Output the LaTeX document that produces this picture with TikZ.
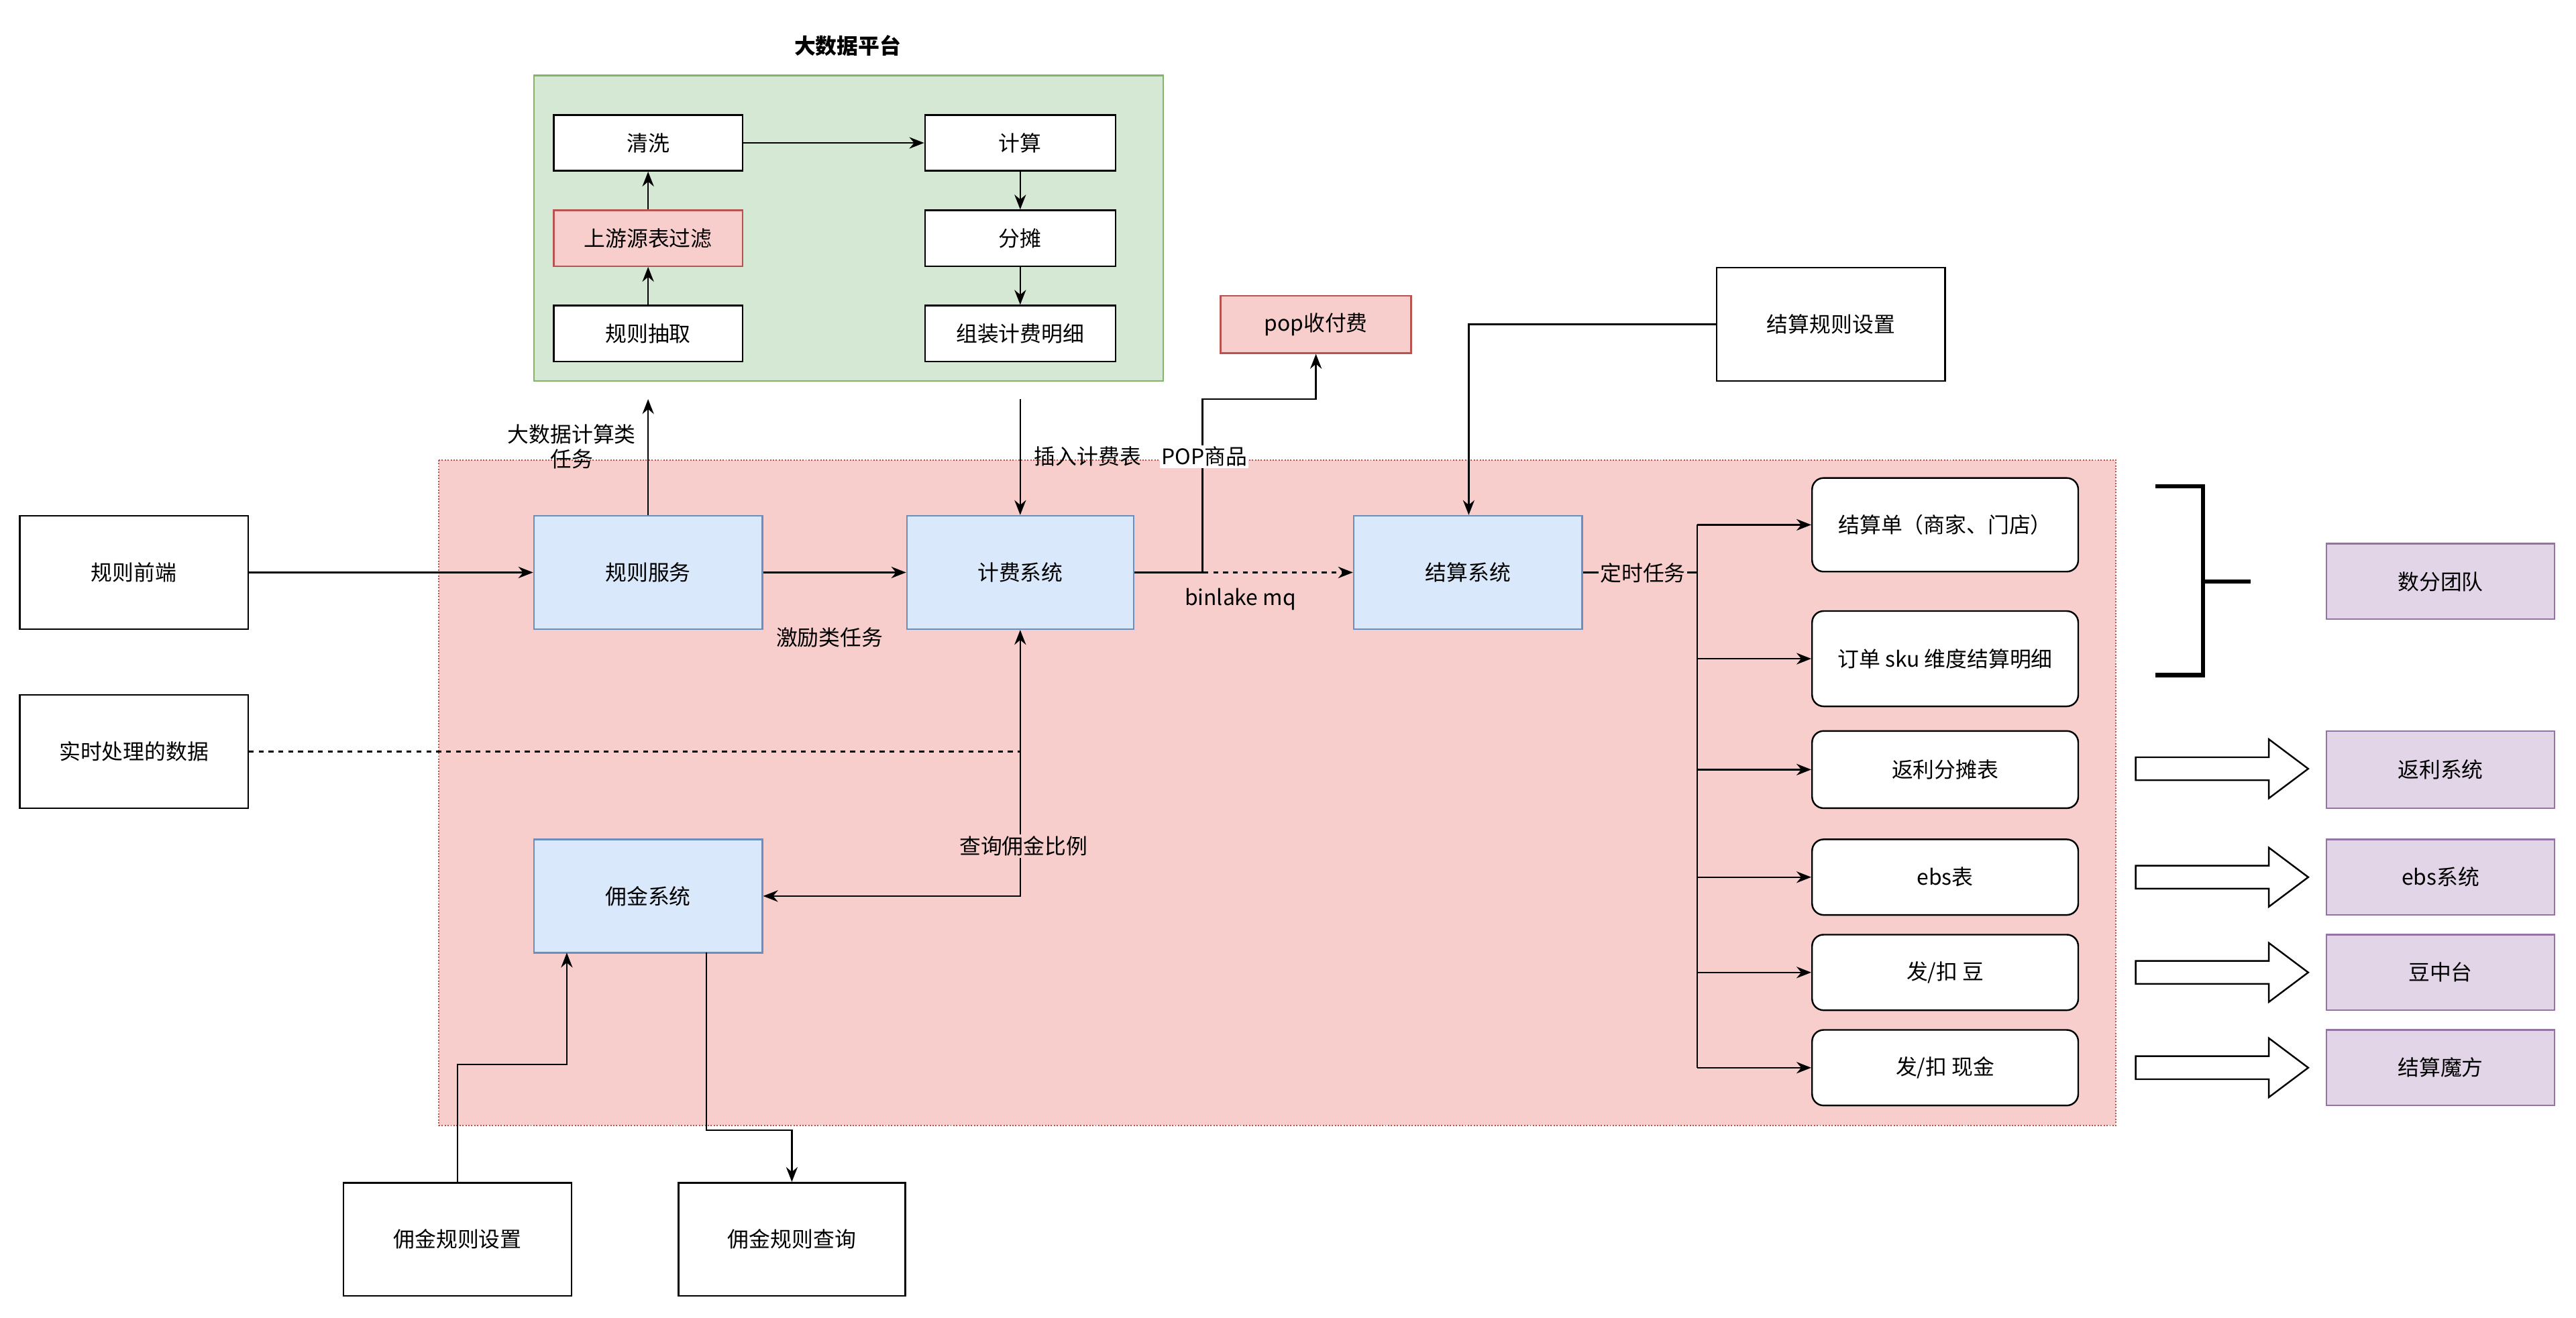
\documentclass[tikz,border=0pt]{standalone}
\usepackage{fontspec}
\setmainfont{Noto Sans CJK SC}
\usetikzlibrary{arrows.meta,shapes.arrows}
\definecolor{grnfill}{RGB}{213,232,212}\definecolor{grndraw}{RGB}{130,179,102}
\definecolor{redfill}{RGB}{248,206,204}\definecolor{reddraw}{RGB}{184,84,80}
\definecolor{blufill}{RGB}{218,232,252}\definecolor{bludraw}{RGB}{108,142,191}
\definecolor{purfill}{RGB}{225,213,231}\definecolor{purdraw}{RGB}{150,115,166}
\tikzset{
  box/.style={draw=black,fill=white,line width=1pt,inner sep=0pt,font=\fontsize{13}{15}\selectfont},
  redbox/.style={box,fill=redfill,draw=reddraw},
  blubox/.style={box,fill=blufill,draw=bludraw},
  purbox/.style={box,fill=purfill,draw=purdraw},
  rbox/.style={box,rounded corners=7pt},
  lbl/.style={font=\fontsize{13}{15}\selectfont,inner sep=1pt,align=center},
  arr/.style={-{Stealth[length=9pt,width=7pt]},line width=1pt},
}
\begin{document}
\begin{tikzpicture}[x=1pt,y=-1pt]
\useasboundingbox (0,0) rectangle (1568,802);
\fill[white] (0,0) rectangle (1568,802);

% platform
\node[lbl,font=\fontsize{13}{15}\selectfont\bfseries] (title) at (516,28) {大数据平台};
\draw[fill=grnfill,draw=grndraw,line width=1pt] (325,46) rectangle (708,232);
\node[box,minimum width=115pt,minimum height=34pt] (clean) at (394.5,87) {清洗};
\node[redbox,minimum width=115pt,minimum height=34pt] (filter) at (394.5,145) {上游源表过滤};
\node[box,minimum width=115pt,minimum height=34pt] (extract) at (394.5,203) {规则抽取};
\node[box,minimum width=116pt,minimum height=34pt] (calc) at (621,87) {计算};
\node[box,minimum width=116pt,minimum height=34pt] (split) at (621,145) {分摊};
\node[box,minimum width=116pt,minimum height=34pt] (assemble) at (621,203) {组装计费明细};
\draw[arr] (extract) -- (filter);
\draw[arr] (filter) -- (clean);
\draw[arr] (clean) -- (calc);
\draw[arr] (calc) -- (split);
\draw[arr] (split) -- (assemble);

% main region
\draw[fill=redfill,draw=reddraw,densely dotted,line width=0.8pt] (267,280) rectangle (1288,685);

\node[redbox,minimum width=116pt,minimum height=35pt] (pop) at (801,197.5) {pop收付费};
\node[box,minimum width=139pt,minimum height=69pt] (setrule) at (1114.5,197.5) {结算规则设置};
\node[box,minimum width=139pt,minimum height=69pt] (front) at (81.5,348.5) {规则前端};
\node[box,minimum width=139pt,minimum height=69pt] (realtime) at (81.5,457.5) {实时处理的数据};
\node[blubox,minimum width=139pt,minimum height=69pt] (rulesvc) at (394.5,348.5) {规则服务};
\node[blubox,minimum width=138pt,minimum height=69pt] (billing) at (621,348.5) {计费系统};
\node[blubox,minimum width=139pt,minimum height=69pt] (settle) at (893.5,348.5) {结算系统};
\node[blubox,minimum width=139pt,minimum height=69pt] (commis) at (394.5,545.5) {佣金系统};
\node[box,minimum width=139pt,minimum height=69pt] (cset) at (278.5,754.5) {佣金规则设置};
\node[box,minimum width=138pt,minimum height=69pt] (cquery) at (482,754.5) {佣金规则查询};

\node[rbox,minimum width=162pt,minimum height=57pt] (o1) at (1184,319.5) {结算单（商家、门店）};
\node[rbox,minimum width=162pt,minimum height=58pt] (o2) at (1184,401) {订单 sku 维度结算明细};
\node[rbox,minimum width=162pt,minimum height=47pt] (o3) at (1184,468.5) {返利分摊表};
\node[rbox,minimum width=162pt,minimum height=46pt] (o4) at (1184,534) {ebs表};
\node[rbox,minimum width=162pt,minimum height=46pt] (o5) at (1184,592) {发/扣 豆};
\node[rbox,minimum width=162pt,minimum height=46pt] (o6) at (1184,650) {发/扣 现金};

\node[purbox,minimum width=139pt,minimum height=46pt] (team) at (1485.5,354) {数分团队};
\node[purbox,minimum width=139pt,minimum height=47pt] (rebate) at (1485.5,468.5) {返利系统};
\node[purbox,minimum width=139pt,minimum height=46pt] (ebs) at (1485.5,534) {ebs系统};
\node[purbox,minimum width=139pt,minimum height=46pt] (bean) at (1485.5,592) {豆中台};
\node[purbox,minimum width=139pt,minimum height=46pt] (cube) at (1485.5,650) {结算魔方};

% bracket
\draw[line width=2.5pt] (1312,296) -- (1341,296) -- (1341,411) -- (1312,411);
\draw[line width=2.5pt] (1341,354) -- (1370,354);

% block arrows
\foreach \y in {468,534,592,650}
  \draw[line width=1pt,fill=white] (1300,\y-7) -- (1381,\y-7) -- (1381,\y-18) -- (1405,\y) -- (1381,\y+18) -- (1381,\y+7) -- (1300,\y+7) -- cycle;

% connectors
\coordinate (up1) at (394.5,243);
\coordinate (ins) at (621,243);
\draw[arr] (front) -- (rulesvc);
\draw[arr] (rulesvc) -- (billing);
\node[lbl] (lbA) at (505,388) {激励类任务};
\draw[arr] (rulesvc) -- (up1);
\node[lbl] (lbB) at (348,272) {大数据计算类\\任务};
\draw[arr] (ins) -- (billing);
\node[lbl] (lbC) at (662,278) {插入计费表};
\draw[arr] (billing.east) -- (732,348.5) -- (732,243) -- (801,243) -- (pop.south);
\node[lbl,fill=white] (lbD) at (733,278) {POP商品};
\draw[arr,dashed] (billing) -- (settle);
\node[lbl] (lbE) at (755,365) {binlake mq};
\draw[arr] (setrule.west) -- (894,197.5) -- (settle.north -| 894,0);
\draw[line width=1pt] (settle.east) -- (1033,348.5);
\node[lbl,fill=redfill] (lbF) at (1000,349) {定时任务};
\draw[line width=1pt] (1033,319.5) -- (1033,650);
\foreach \n in {o1,o2,o3,o4,o5,o6}
  \draw[arr] (\n.west -| 1033,0) -- (\n.west);
\draw[dashed,line width=1pt] (realtime.east) -- (621,457.5);
\draw[arr,{Stealth[length=9pt,width=7pt]}-{Stealth[length=9pt,width=7pt]}] (billing.south) -- (621,545.5) -- (commis.east);
\node[lbl,fill=redfill] (lbG) at (623,515) {查询佣金比例};
\draw[arr] (cset.north) -- (278.5,648) -- (345,648) -- (345,580);
\draw[arr] (430,580) -- (430,688) -- (482,688) -- (cquery.north);
\end{tikzpicture}
\end{document}
